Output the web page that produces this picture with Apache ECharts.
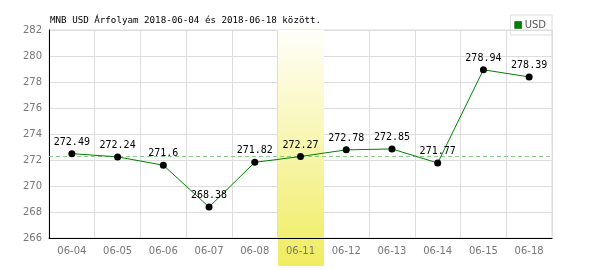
<!DOCTYPE html>
<html><head><meta charset="utf-8">
<script src="https://cdn.jsdelivr.net/npm/echarts@6/dist/echarts.min.js"></script>
<style>html,body{margin:0;padding:0;background:#fff}#c{width:600px;height:270px}</style>
</head><body><div id="c"></div>
<script>
const titleText = 'MNB USD Árfolyam 2018-06-04 és 2018-06-18 között.';
const seriesName = 'USD';
const categories = ['06-04','06-05','06-06','06-07','06-08','06-11','06-12','06-13','06-14','06-15','06-18'];
const values = [272.49,272.24,271.6,268.38,271.82,272.27,272.78,272.85,271.77,278.94,278.39];
const labels = ['272.49','272.24','271.6','268.38','271.82','272.27','272.78','272.85','271.77','278.94','278.39'];
const highlightCategory = '06-11';
const refValue = 272.27;
const yTicks = [266,268,270,272,274,276,278,280,282];

const chart = echarts.init(document.getElementById('c'), null, {renderer:'canvas'});
const mono = 'DejaVu Sans Mono';
chart.setOption({
  animation:false,
  title:{text:titleText,left:45,top:11,textStyle:{fontFamily:mono,fontSize:9.2,fontWeight:'normal',color:'#000'}},
  legend:{data:[{name:seriesName,icon:'rect',itemStyle:{color:'#008000',borderColor:'#004000',borderWidth:0.5}}],right:48,top:15,itemWidth:7,itemHeight:7,itemGap:2,
    borderColor:'#ddd',borderWidth:1,padding:[5,6,5,4],
    textStyle:{fontFamily:'DejaVu Sans',fontSize:10,color:'#555',padding:[0,0,0,-2]}},
  grid:{left:49,right:48,top:30,bottom:32,show:true,borderColor:'#ddd',borderWidth:1},
  xAxis:{type:'category',data:categories,boundaryGap:true,
    axisLine:{lineStyle:{color:'#000',width:1}},axisTick:{show:false},
    splitLine:{show:true,interval:0,lineStyle:{color:'#ddd'}},
    axisLabel:{interval:0,color:'#777',fontFamily:'DejaVu Sans',fontSize:10,margin:8}},
  yAxis:{type:'value',min:yTicks[0],max:yTicks[yTicks.length-1],interval:2,
    axisLine:{show:true,lineStyle:{color:'#000'}},axisTick:{show:false},
    splitLine:{lineStyle:{color:'#ddd'}},
    axisLabel:{color:'#777',fontFamily:'DejaVu Sans',fontSize:10,margin:7}},
  series:[{name:seriesName,type:'line',data:values,z:5,
    symbol:'circle',symbolSize:7,
    itemStyle:{color:'#000'},
    lineStyle:{color:'#008000',width:1},
    label:{show:true,position:'top',distance:3,color:'#000',fontFamily:mono,fontSize:10,
      formatter:p=>labels[p.dataIndex]},
    markLine:{silent:true,symbol:'none',label:{show:false},
      lineStyle:{color:'#88cc88',type:[4,3],width:1},data:[{yAxis:refValue}]}
  }]
});
// highlight band computed from the axis scale
const idx = categories.indexOf(highlightCategory);
const c0 = chart.convertToPixel({xAxisIndex:0}, idx);
const c1 = chart.convertToPixel({xAxisIndex:0}, idx+1);
const bw = c1 - c0;
const yTop = chart.convertToPixel({yAxisIndex:0}, yTicks[yTicks.length-1]);
const yBot = chart.convertToPixel({yAxisIndex:0}, yTicks[0]);
const yEnd = yBot + 28;
const bx = Math.round(c0-bw/2), bwid = Math.round(bw);
const grad = () => new echarts.graphic.LinearGradient(0,yTop,0,yEnd,[{offset:0,color:'#fffffa'},{offset:1,color:'#f0ec60'}],true);
chart.setOption({graphic:[
  {type:'rect',z:1,silent:true,shape:{x:bx,y:yTop,width:bwid,height:(yBot-yTop)-1},style:{fill:grad()}},
  {type:'rect',z:-1,silent:true,shape:{x:bx,y:yBot-1,width:bwid,height:yEnd-yBot+1},style:{fill:grad()}}
]});
</script></body></html>
